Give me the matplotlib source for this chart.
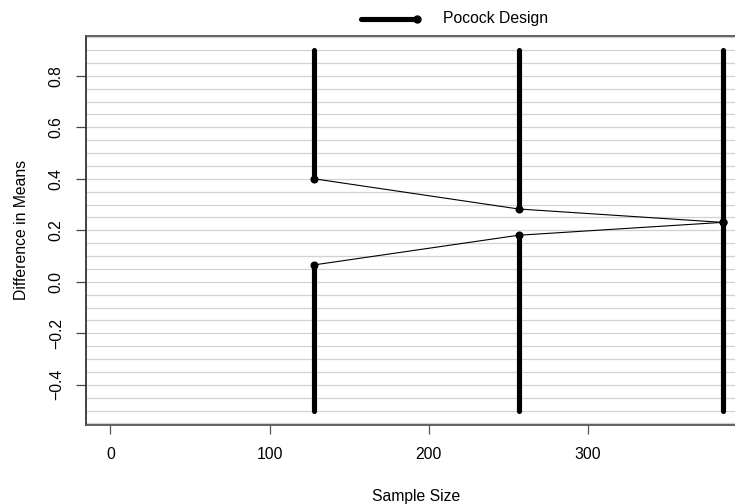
import numpy as np
import matplotlib
matplotlib.use("Agg")
import matplotlib.pyplot as plt
from matplotlib.lines import Line2D

plt.rcParams['font.family'] = ['Liberation Sans', 'DejaVu Sans']

# Group-sequential design: sample size at each analysis and boundaries
sample_size = [128.2, 256.4, 384.6]
upper_bound = [0.400, 0.283, 0.231]
lower_bound = [0.066, 0.181, 0.231]
y_top = 0.9
y_bottom = -0.5
series_name = "Pocock Design"

x_ticks = [0, 100, 200, 300]
y_ticks = [-0.4, -0.2, 0.0, 0.2, 0.4, 0.6, 0.8]
grid_levels = np.round(np.arange(-0.55, 0.951, 0.05), 2)

fs = 11.3
fig = plt.figure(figsize=(7.35, 5.04), dpi=100)
ax = fig.add_axes([86 / 735, 1 - 425 / 504, (747 - 86) / 735, (425 - 35.7) / 504])

# R-style 4% padding around the data range
xr = (0, max(sample_size))
yr = (y_bottom, y_top)
dx = 0.04 * (xr[1] - xr[0])
dy = 0.04 * (yr[1] - yr[0])
ax.set_xlim(xr[0] - dx, xr[1] + dx)
ax.set_ylim(yr[0] - dy, yr[1] + dy)

for g in grid_levels:
    ax.axhline(g, color='#d2d2d2', lw=0.9, zorder=0)

# rejection regions as thick vertical bars
for n, u, l in zip(sample_size, upper_bound, lower_bound):
    ax.plot([n, n], [u, y_top], color='black', lw=3.7, solid_capstyle='round', zorder=2)
    ax.plot([n, n], [y_bottom, l], color='black', lw=3.7, solid_capstyle='round', zorder=2)

ax.plot(sample_size, upper_bound, color='black', lw=0.8, marker='o', ms=4.8, zorder=3)
ax.plot(sample_size, lower_bound, color='black', lw=0.8, marker='o', ms=4.8, zorder=3)

ax.set_xticks(x_ticks)
ax.set_xticklabels([str(v) for v in x_ticks], fontsize=fs)
ax.set_yticks(y_ticks)
ax.set_yticklabels([f"{v:.1f}".replace('-', '\u2212') for v in y_ticks],
                   fontsize=fs, rotation=90, va='center')
ax.tick_params(axis='x', direction='out', length=6.5, width=0.9, color='#555555', pad=9)
ax.tick_params(axis='y', direction='out', length=7, width=0.9, color='#444444', pad=9)

for side in ['top', 'bottom', 'left']:
    ax.spines[side].set_color('#555555')
    ax.spines[side].set_linewidth(1.3)
ax.spines['left'].set_color('#333333')
ax.spines['right'].set_visible(False)

ax.set_xlabel("Sample Size", fontsize=fs, labelpad=20)
ax.set_ylabel("Difference in Means", fontsize=fs, labelpad=14)

# legend above the plotting region
fig.add_artist(Line2D([361 / 735, 418 / 735], [1 - 19 / 504, 1 - 19 / 504],
                      transform=fig.transFigure, color='black', lw=3.7,
                      solid_capstyle='round'))
fig.add_artist(Line2D([417 / 735], [1 - 19 / 504], transform=fig.transFigure,
                      color='black', marker='o', ms=5, lw=0))
fig.text(443 / 735, 1 - 19 / 504, series_name, fontsize=fs, va='center', ha='left')

fig.savefig("out.png", dpi=100)
